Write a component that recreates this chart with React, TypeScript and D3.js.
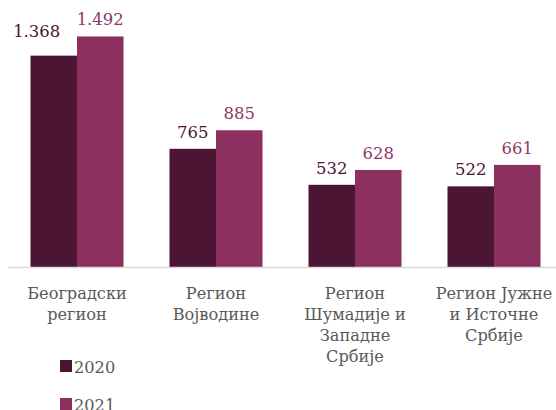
import React, { useEffect } from "react";
import * as d3 from "d3";

const categories: string[][] = [
  ["Београдски", "регион"],
  ["Регион", "Војводине"],
  ["Регион", "Шумадије и", "Западне", "Србије"],
  ["Регион Јужне", "и Источне", "Србије"],
];
const seriesNames = ["2020", "2021"];
const values2020 = [1368, 765, 532, 522];
const values2021 = [1492, 885, 628, 661];
const valueLabels2020 = ["1.368", "765", "532", "522"];
const valueLabels2021 = ["1.492", "885", "628", "661"];

const W = 556;
const H = 410;
const baseY = 267;
const colors = ["#4b1533", "#8c3060"];
const labelColors = ["#4b1533", "#8e3a68"];
const textGray = "#595959";
const FONT = "'DejaVu Serif', serif";

export default function App() {
  useEffect(() => {
    document.body.style.margin = "0";
  }, []);

  const x = d3
    .scaleBand<number>()
    .domain(d3.range(categories.length))
    .range([7.5, 563.5])
    .paddingInner(0)
    .paddingOuter(0);
  const step = x.step();
  const groupW = 93;
  const x1 = d3
    .scaleBand<number>()
    .domain([0, 1])
    .range([(step - groupW) / 2, (step + groupW) / 2]);
  const y = d3.scaleLinear().domain([0, 1600]).range([baseY, baseY - 1600 * 0.1545]);

  const series = [values2020, values2021];
  const labels = [valueLabels2020, valueLabels2021];

  // the first 2020 label was nudged up-left in the original to clear its neighbour
  const labelShift = (i: number, s: number) =>
    i === 0 && s === 0 ? { dx: -17, dy: -8 } : { dx: 0, dy: 0 };

  return (
    <svg
      width={W}
      height={H}
      style={{ position: "absolute", left: 0, top: 0 }}
      fontFamily={FONT}
    >
      <rect width={W} height={H} fill="#fff" />
      {categories.map((_, i) => (
        <g key={i} transform={`translate(${x(i)},0)`}>
          {series.map((vals, s) => (
            <rect
              key={s}
              x={x1(s)}
              y={y(vals[i])}
              width={x1.bandwidth()}
              height={baseY - y(vals[i])}
              fill={colors[s]}
            />
          ))}
          {series.map((vals, s) => {
            const sh = labelShift(i, s);
            return (
              <text
                key={"l" + s}
                x={(x1(s) as number) + x1.bandwidth() / 2 + sh.dx}
                y={y(vals[i]) - 11 + sh.dy}
                textAnchor="middle"
                fontSize={16.5}
                fill={labelColors[s]}
              >
                {labels[s][i]}
              </text>
            );
          })}
          {categories[i].map((line, li) => (
            <text
              key={"c" + li}
              x={step / 2}
              y={299 + li * 21}
              textAnchor="middle"
              fontSize={16.2}
              fill={textGray}
            >
              {line}
            </text>
          ))}
        </g>
      ))}
      <line x1={8} x2={556} y1={baseY + 0.5} y2={baseY + 0.5} stroke="#d9d9d9" strokeWidth={1.5} />
      {seriesNames.map((name, s) => (
        <g key={name} transform={`translate(60,${360 + s * 38})`}>
          <rect x={0} y={0} width={12} height={12} fill={colors[s]} />
          <text x={14} y={12.5} fontSize={16.2} fill={textGray}>
            {name}
          </text>
        </g>
      ))}
    </svg>
  );
}
